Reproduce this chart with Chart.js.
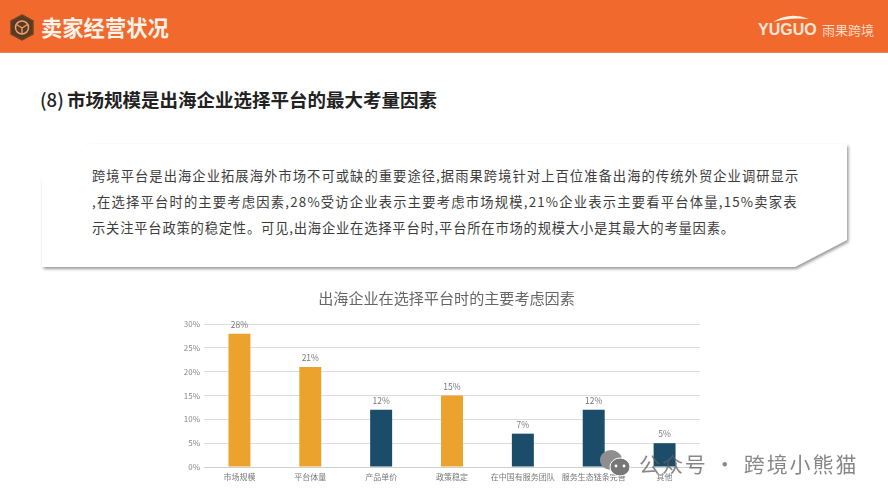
<!DOCTYPE html>
<html lang="zh">
<head>
<meta charset="utf-8">
<title>卖家经营状况</title>
<script src="https://cdn.jsdelivr.net/npm/chart.js@4/dist/chart.umd.min.js"></script>
<style>
  html, body { margin: 0; padding: 0; background: #fff; }
  body { width: 888px; height: 500px; position: relative; overflow: hidden; font-family: "Noto Sans CJK SC", sans-serif; }
  .abs { position: absolute; white-space: nowrap; }
  #band { left: 0; top: 0; width: 888px; height: 52px; background: #f1692c; border-bottom: 1px solid #e2875c; }
  #pageTitle { left: 41px; top: 12px; font-size: 21.3px; line-height: 30px; font-weight: 700; color: #fdf3ea; }
  #yuguo { left: 758px; top: 20px; font: 700 16px/20px "Liberation Sans", sans-serif; color: #fbe6d8; }
  #yuguoCn { left: 822px; top: 20px; font-size: 13px; line-height: 20px; color: #fbdcc8; }
  #heading { left: 40px; top: 86px; font-size: 18.5px; line-height: 26px; font-weight: 700; color: #222; }
  #heading span { font-weight: 500; margin-right: -1px; }
  .para { left: 92px; font-size: 13.3px; line-height: 20px; color: #3c3c3c; }
  canvas { position: absolute; left: 0; top: 0; }
  #mark { left: 639px; top: 448px; font-size: 21px; line-height: 30px; letter-spacing: 1.9px; color: rgba(95,95,95,.75); }
</style>
</head>
<body>
<div class="abs" id="band"></div>
<svg class="abs" style="left:0;top:0" width="888" height="52">
  <path d="M22 15 L33 21 V34 L22 40 L11 34 V21 Z" fill="#5a3a22" stroke="#6b4427" stroke-width="1.5"/>
  <circle cx="22" cy="27.5" r="6.5" fill="none" stroke="#eea06e" stroke-width="1.5"/>
  <path d="M22 28 V34 M22 28 L16.5 24.5 M22 28 L27.5 24.5" stroke="#eea06e" stroke-width="1.3" fill="none"/>
  <path d="M773 22 Q790 11 809 19 Q790 17 773 22 Z" fill="#fdf1e8"/>
</svg>
<div class="abs" id="pageTitle">卖家经营状况</div>
<div class="abs" id="yuguo">YUGUO</div>
<div class="abs" id="yuguoCn">雨果跨境</div>
<div class="abs" id="heading"><span>(8)</span> 市场规模是出海企业选择平台的最大考量因素</div>

<svg class="abs" style="left:0;top:130px" width="888" height="150">
  <defs>
    <filter id="sh" x="-5%" y="-10%" width="110%" height="125%">
      <feDropShadow dx="1.5" dy="2" stdDeviation="1.4" flood-color="#777" flood-opacity=".75"/>
    </filter>
  </defs>
  <polygon points="90,14 847,14 847,110 795,137 42,137 42,47" fill="#fff" filter="url(#sh)"/>
</svg>
<div class="abs para" style="top:166px;letter-spacing:1.04px">跨境平台是出海企业拓展海外市场不可或缺的重要途径,据雨果跨境针对上百位准备出海的传统外贸企业调研显示</div>
<div class="abs para" style="top:192px;letter-spacing:1.2px">,在选择平台时的主要考虑因素,28%受访企业表示主要考虑市场规模,21%企业表示主要看平台体量,15%卖家表</div>
<div class="abs para" style="top:218px;letter-spacing:0.79px">示关注平台政策的稳定性。可见,出海企业在选择平台时,平台所在市场的规模大小是其最大的考量因素。</div>

<canvas id="c" width="888" height="500"></canvas>

<svg class="abs" style="left:598px;top:448px" width="36" height="30">
  <ellipse cx="13" cy="12" rx="11" ry="10" fill="#8e8e8e"/>
  <ellipse cx="22" cy="19" rx="10" ry="9" fill="#777" stroke="#fff" stroke-width="1"/>
  <circle cx="18" cy="18" r="1.4" fill="#fff"/><circle cx="26" cy="18" r="1.4" fill="#fff"/>
</svg>
<div class="abs" id="mark">公众号 · 跨境小熊猫</div>

<script>
const chartTitle = '出海企业在选择平台时的主要考虑因素';
const categories = ['市场规模', '平台体量', '产品单价', '政策稳定', '在中国有服务团队', '服务生态链条完善', '其他'];
const shares = [28, 21, 12, 15, 7, 12, 5];
const highlighted = ['市场规模', '平台体量', '政策稳定'];
const tickValues = [0, 5, 10, 15, 20, 25, 30];

const font = '"Noto Sans CJK SC", sans-serif';

// value labels above the bars, and the title nudged right of the plot centre
const barLabels = {
  id: 'barLabels',
  afterLayout(chart) {
    chart.titleBlock.left = 193;
  },
  afterDatasetsDraw(chart) {
    const ctx = chart.ctx;
    ctx.save();
    ctx.font = '8.5px ' + font;
    ctx.fillStyle = '#777';
    ctx.textAlign = 'center';
    ctx.textBaseline = 'bottom';
    chart.getDatasetMeta(0).data.forEach((bar, i) => {
      ctx.fillText(shares[i] + '%', bar.x, bar.y - 5);
    });
    ctx.restore();
  }
};

new Chart(document.getElementById('c'), {
  type: 'bar',
  data: {
    labels: categories,
    datasets: [{
      data: shares,
      backgroundColor: categories.map(c => highlighted.includes(c) ? '#eba32e' : '#1b4d6b'),
      categoryPercentage: 1,
      barPercentage: 0.31
    }]
  },
  options: {
    responsive: false,
    animation: false,
    layout: { padding: { left: 170, right: 188, top: 0, bottom: 0 } },
    plugins: {
      legend: { display: false },
      tooltip: { enabled: false },
      title: {
        display: true,
        text: chartTitle,
        color: '#666',
        font: { family: font, size: 15.1, weight: 'normal' },
        padding: { top: 289, bottom: 17 }
      }
    },
    scales: {
      x: {
        afterFit(scale) { scale.height = 33; },
        grid: { display: false, drawTicks: false },
        border: { color: '#cfcfcf' },
        ticks: { autoSkip: false, maxRotation: 0, color: '#777', font: { family: font, size: 8 }, padding: 5 }
      },
      y: {
        min: 0,
        max: 30,
        afterFit(scale) { scale.width = 34; },
        afterBuildTicks(scale) { scale.ticks = tickValues.map(v => ({ value: v })); },
        grid: { color: '#dcdcdc', drawTicks: false },
        border: { display: false },
        ticks: { color: '#888', font: { family: font, size: 8 }, padding: 4, callback: v => v + '%' }
      }
    }
  },
  plugins: [barLabels]
});
</script>
</body>
</html>
